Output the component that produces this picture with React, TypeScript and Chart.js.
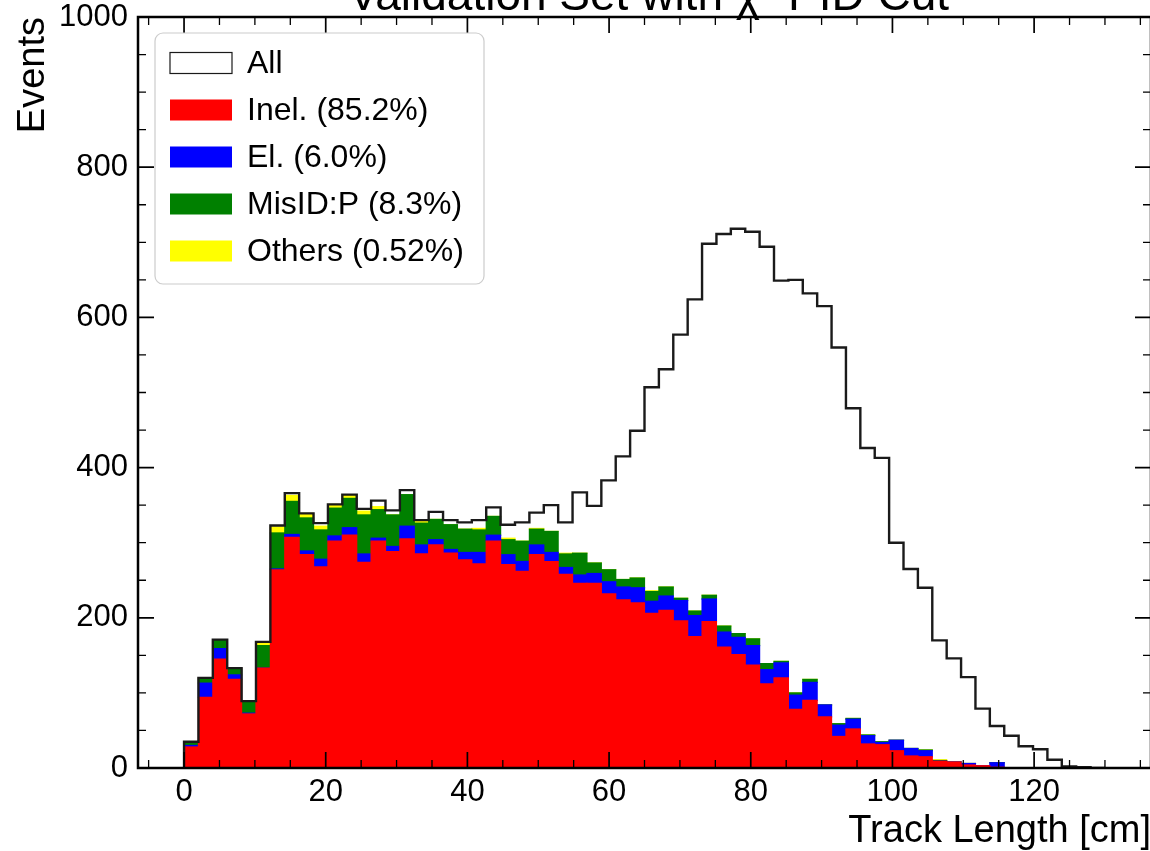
import React, { useEffect, useRef } from "react";
import { Chart, registerables } from "chart.js";

Chart.register(...registerables);

// ---- Data (64 bins from 0 to 130 cm) ----
const BIN_LOW = 0;
const BIN_HIGH = 130;
const N_BINS = 64;

const ALL = [35, 120, 171, 133, 89, 168, 323, 366, 339, 326, 351, 364, 345, 356, 343, 370, 330, 341, 330, 327, 330, 347, 324, 327, 340, 350, 327, 367, 349, 383, 415, 449, 507, 531, 577, 624, 698, 711, 718, 714, 694, 649, 650, 632, 615, 560, 479, 426, 413, 300, 265, 240, 170, 146, 121, 79, 56, 43, 29, 25, 11, 2, 1, 0];
const INEL = [28, 94, 145, 118, 72, 133, 264, 307, 284, 268, 302, 310, 274, 302, 288, 305, 285, 297, 286, 277, 272, 302, 271, 262, 284, 275, 258, 246, 246, 232, 224, 220, 206, 210, 196, 175, 195, 161, 151, 137, 112, 120, 78, 90, 68, 42, 52, 32, 31, 23, 16, 15, 9, 8, 4, 3, 1, 0, 0, 0, 0, 0, 0, 0];
const EL = [2, 19, 14, 6, 1, 0, 1, 4, 5, 10, 7, 10, 11, 4, 7, 17, 12, 7, 5, 10, 15, 8, 13, 13, 13, 12, 9, 11, 13, 16, 17, 20, 16, 19, 27, 28, 30, 20, 23, 26, 19, 20, 19, 24, 16, 15, 13, 11, 3, 14, 10, 8, 0, 0, 2, 0, 6, 0, 0, 0, 0, 0, 0, 0];
const MISID = [4, 6, 11, 8, 15, 30, 48, 44, 44, 39, 37, 39, 52, 38, 42, 42, 29, 27, 33, 31, 30, 25, 20, 27, 21, 28, 18, 29, 14, 16, 10, 13, 13, 12, 3, 6, 5, 8, 5, 9, 8, 2, 3, 4, 0, 2, 1, 1, 1, 0, 0, 1, 1, 0, 0, 0, 0, 0, 0, 0, 0, 0, 0, 0];
const OTHERS = [0, 1, 0, 0, 0, 4, 8, 8, 6, 5, 5, 5, 5, 4, 0, 0, 3, 0, 0, 0, 2, 0, 2, 0, 1, 0, 1, 0, 0, 0, 0, 0, 1, 0, 0, 0, 0, 0, 0, 0, 0, 0, 0, 0, 0, 0, 0, 0, 0, 0, 0, 0, 1, 0, 0, 0, 0, 0, 0, 0, 0, 0, 0, 0];

const LABELS = ["All", "Inel. (85.2%)", "El. (6.0%)", "MisID:P (8.3%)", "Others (0.52%)"];
const TITLE = "Validation Set with χ² PID Cut";
const X_TITLE = "Track Length [cm]";
const Y_TITLE = "Events";

const X_MIN = -6.5;
const X_MAX = 136.5;
const Y_MIN = 0;
const Y_MAX = 1000;
const X_TICKS = [0, 20, 40, 60, 80, 100, 120];
const X_MINOR = [-5, 5, 10, 15, 25, 30, 35, 45, 50, 55, 65, 70, 75, 85, 90, 95, 105, 110, 115, 125, 130, 135];
const Y_TICKS = [0, 200, 400, 600, 800, 1000];
const Y_MINOR = [50, 100, 150, 250, 300, 350, 450, 500, 550, 650, 700, 750, 850, 900, 950];

const FONT = "'Liberation Sans', Arial, Helvetica, sans-serif";

const binWidth = (BIN_HIGH - BIN_LOW) / N_BINS;
const edges = Array.from({ length: N_BINS + 1 }, (_, i) => BIN_LOW + i * binWidth);
const centers = edges.slice(0, N_BINS).map((e) => e + binWidth / 2);
const toPts = (vals: number[]) => vals.map((v, i) => ({ x: centers[i], y: v }));
const allSteps = [
  { x: edges[0], y: 0 },
  ...ALL.map((v, i) => ({ x: edges[i], y: v })),
  { x: edges[N_BINS], y: 0 },
];

const frameTicksPlugin = {
  id: "frameTicks",
  afterDatasetsDraw(chart: any) {
    const { ctx, chartArea, scales } = chart;
    const { left, right, top, bottom } = chartArea;
    const xs = scales.x;
    const ys = scales.y;
    ctx.save();
    ctx.strokeStyle = "#000";
    const drawX = (vals: number[], len: number, lw: number) => {
      ctx.lineWidth = lw;
      ctx.beginPath();
      for (const v of vals) {
        const px = xs.getPixelForValue(v);
        ctx.moveTo(px, bottom);
        ctx.lineTo(px, bottom - len);
        ctx.moveTo(px, top);
        ctx.lineTo(px, top + len);
      }
      ctx.stroke();
    };
    const drawY = (vals: number[], len: number, lw: number) => {
      ctx.lineWidth = lw;
      ctx.beginPath();
      for (const v of vals) {
        const py = ys.getPixelForValue(v);
        ctx.moveTo(left, py);
        ctx.lineTo(left + len, py);
        ctx.moveTo(right, py);
        ctx.lineTo(right - len, py);
      }
      ctx.stroke();
    };
    drawX(X_TICKS, 16, 1.7);
    drawX(X_MINOR, 8, 1.3);
    drawY(Y_TICKS, 16, 1.7);
    drawY(Y_MINOR, 8, 1.3);
    ctx.lineWidth = 2.5;
    ctx.strokeRect(left, top, right - left, bottom - top);
    ctx.restore();
  },
};

const titlePlugin = {
  id: "topTitle",
  afterDraw(chart: any) {
    const { ctx, chartArea } = chart;
    ctx.save();
    ctx.font = `46px ${FONT}`;
    ctx.fillStyle = "#000";
    ctx.textAlign = "center";
    ctx.textBaseline = "alphabetic";
    ctx.fillText(TITLE, (chartArea.left + chartArea.right) / 2 + 4, 10);
    ctx.restore();
  },
};

const legendPlugin = {
  id: "boxLegend",
  afterDraw(chart: any) {
    const { ctx, chartArea } = chart;
    const bx = chartArea.left + 17;
    const by = chartArea.top + 16;
    const bw = 329;
    const bh = 251;
    ctx.save();
    ctx.fillStyle = "rgba(255,255,255,0.8)";
    ctx.strokeStyle = "#cccccc";
    ctx.lineWidth = 1.2;
    ctx.beginPath();
    (ctx as any).roundRect(bx, by, bw, bh, 8);
    ctx.fill();
    ctx.stroke();
    const rows = [30, 77, 124, 171, 218];
    ctx.font = `32px ${FONT}`;
    ctx.textBaseline = "middle";
    ctx.textAlign = "left";
    chart.data.datasets.forEach((ds: any, i: number) => {
      const cy = by + rows[i];
      const hx = bx + 15;
      const hw = 62;
      const hh = 21;
      if (ds.type === "line") {
        ctx.fillStyle = "#fff";
        ctx.fillRect(hx, cy - hh / 2, hw, hh);
        ctx.strokeStyle = "#1a1a1a";
        ctx.lineWidth = 1.2;
        ctx.strokeRect(hx, cy - hh / 2, hw, hh);
      } else {
        ctx.fillStyle = ds.backgroundColor;
        ctx.fillRect(hx, cy - hh / 2, hw, hh);
      }
      ctx.fillStyle = "#000";
      ctx.fillText(ds.label, bx + 92, cy + 1);
    });
    ctx.restore();
  },
};

export default function App() {
  const ref = useRef<HTMLCanvasElement>(null);
  useEffect(() => {
    if (!ref.current) return;
    const barCommon = {
      type: "bar",
      stack: "comp",
      order: 1,
      barPercentage: 1,
      categoryPercentage: 1,
      borderWidth: 0,
      inflateAmount: 0.6,
    };
    const chart = new Chart(ref.current, {
      type: "bar",
      data: {
        datasets: [
          {
            type: "line",
            label: LABELS[0],
            data: allSteps,
            borderColor: "#1a1a1a",
            backgroundColor: "#ffffff",
            borderWidth: 2.4,
            pointRadius: 0,
            stepped: true,
            fill: false,
            order: 0,
            stack: "all",
          } as any,
          { ...barCommon, label: LABELS[1], data: toPts(INEL), backgroundColor: "#ff0000" } as any,
          { ...barCommon, label: LABELS[2], data: toPts(EL), backgroundColor: "#0000ff" } as any,
          { ...barCommon, label: LABELS[3], data: toPts(MISID), backgroundColor: "#008000" } as any,
          { ...barCommon, label: LABELS[4], data: toPts(OTHERS), backgroundColor: "#ffff00" } as any,
        ],
      },
      options: {
        responsive: false,
        animation: false,
        devicePixelRatio: 1,
        layout: { padding: { top: 17, right: 19, left: 0, bottom: 0 } },
        plugins: {
          legend: { display: false },
          tooltip: { enabled: false },
        },
        scales: {
          x: {
            type: "linear",
            min: X_MIN,
            max: X_MAX,
            offset: false,
            stacked: true,
            grid: { display: false, offset: false },
            border: { display: false },
            afterFit: (s: any) => {
              s.height = 83;
              s.paddingLeft = 0;
              s.paddingRight = 0;
            },
            afterBuildTicks: (s: any) => {
              s.ticks = X_TICKS.map((v) => ({ value: v }));
            },
            ticks: {
              color: "#000",
              font: { family: FONT, size: 31, lineHeight: 1 },
              padding: 1,
              maxRotation: 0,
              autoSkip: false,
              callback: (v: any) => String(v),
            },
            title: {
              display: true,
              text: X_TITLE,
              align: "end",
              color: "#000",
              font: { family: FONT, size: 38, lineHeight: 1 },
              padding: { top: 0, bottom: 0 },
            },
          },
          y: {
            type: "linear",
            min: Y_MIN,
            max: Y_MAX,
            stacked: true,
            grid: { display: false },
            border: { display: false },
            afterFit: (s: any) => {
              s.width = 138;
              s.paddingTop = 0;
              s.paddingBottom = 0;
            },
            afterBuildTicks: (s: any) => {
              s.ticks = Y_TICKS.map((v) => ({ value: v }));
            },
            ticks: {
              color: "#000",
              font: { family: FONT, size: 31, lineHeight: 1 },
              padding: 2,
              autoSkip: false,
              callback: (v: any) => String(v),
            },
            title: {
              display: true,
              text: Y_TITLE,
              align: "end",
              color: "#000",
              font: { family: FONT, size: 38, lineHeight: 1 },
              padding: { top: 15, bottom: 0 },
            },
          },
        },
      } as any,
      plugins: [frameTicksPlugin, legendPlugin, titlePlugin],
    } as any);
    return () => chart.destroy();
  }, []);
  return (
    <div
      style={{
        position: "fixed",
        left: 0,
        top: 0,
        width: 1150,
        height: 851,
        overflow: "hidden",
        background: "#fff",
      }}
    >
      <canvas ref={ref} width={1170} height={851} style={{ display: "block", width: 1170, height: 851 }} />
    </div>
  );
}
